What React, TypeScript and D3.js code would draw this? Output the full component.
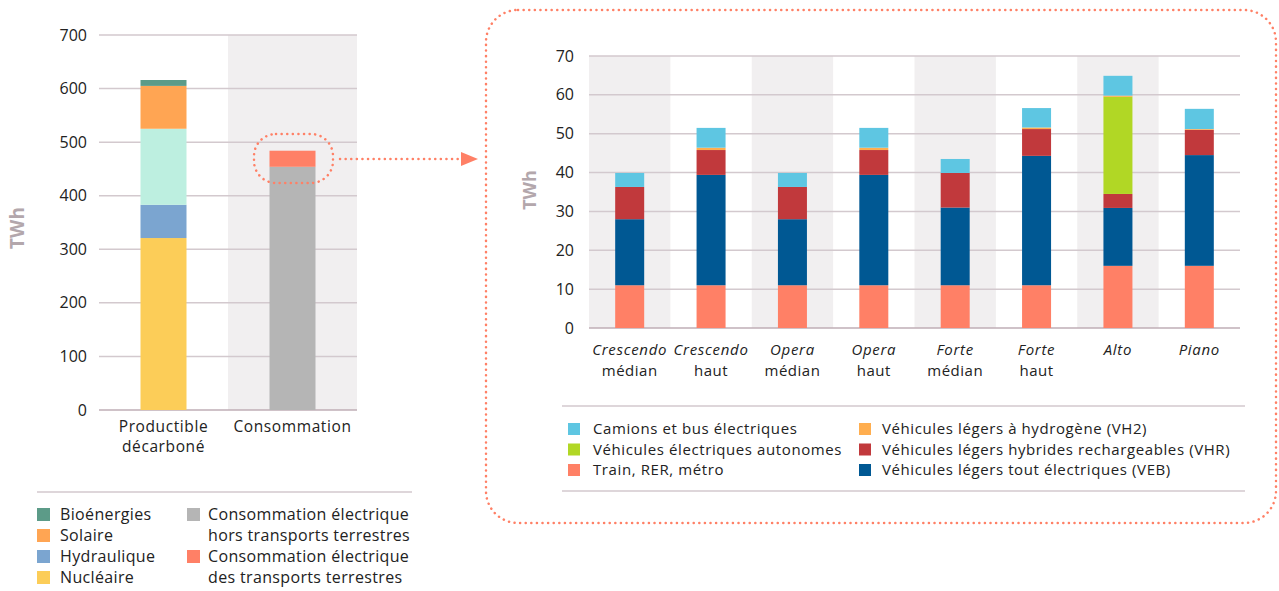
import React from "react";
import * as d3 from "d3";

const leftCategories = ["Productible décarboné", "Consommation"];
const leftCatLines = [["Productible", "décarboné"], ["Consommation"]];
const leftSeriesKeys = ["nucleaire", "hydraulique", "eolien", "solaire", "bio", "horsTransport", "transport"];
const nucleaire = [321, 0];
const hydraulique = [62, 0];
const eolien = [142, 0];
const solaire = [80, 0];
const bio = [11, 0];
const horsTransport = [0, 454];
const transport = [0, 30];
const leftTicks = [0, 100, 200, 300, 400, 500, 600, 700];

const rightCategories = ["Crescendo médian", "Crescendo haut", "Opera médian", "Opera haut", "Forte médian", "Forte haut", "Alto", "Piano"];
const rightLine1 = ["Crescendo", "Crescendo", "Opera", "Opera", "Forte", "Forte", "Alto", "Piano"];
const rightLine2 = ["médian", "haut", "médian", "haut", "médian", "haut", "", ""];
const rightSeriesKeys = ["train", "veb", "vhr", "vea", "vh2", "camions"];
const train = [11, 11, 11, 11, 11, 11, 16, 16];
const veb = [17, 28.4, 17, 28.4, 20, 33.3, 14.9, 28.5];
const vhr = [8.3, 6.4, 8.3, 6.4, 8.9, 6.9, 3.6, 6.5];
const vea = [0, 0, 0, 0, 0, 0, 25, 0];
const vh2 = [0, 0.6, 0, 0.6, 0, 0.4, 0.3, 0.2];
const camions = [3.6, 5.1, 3.6, 5.1, 3.6, 5, 5.1, 5.2];
const rightTicks = [0, 10, 20, 30, 40, 50, 60, 70];

const leftColors: Record<string, string> = {
  nucleaire: "#fccd58",
  hydraulique: "#7ba5d0",
  eolien: "#bdefe0",
  solaire: "#ffa553",
  bio: "#5c9b88",
  horsTransport: "#b5b5b5",
  transport: "#ff8066",
};
const rightColors: Record<string, string> = {
  train: "#ff8066",
  veb: "#005893",
  vhr: "#c1393c",
  vea: "#b1d725",
  vh2: "#ffae4f",
  camions: "#5ec6e2",
};

const leftLegend1 = [
  { key: "bio", label: "Bioénergies" },
  { key: "solaire", label: "Solaire" },
  { key: "hydraulique", label: "Hydraulique" },
  { key: "nucleaire", label: "Nucléaire" },
];
const leftLegend2 = [
  { key: "horsTransport", lines: ["Consommation électrique", "hors transports terrestres"] },
  { key: "transport", lines: ["Consommation électrique", "des transports terrestres"] },
];
const rightLegend1 = [
  { key: "camions", label: "Camions et bus électriques" },
  { key: "vea", label: "Véhicules électriques autonomes" },
  { key: "train", label: "Train, RER, métro" },
];
const rightLegend2 = [
  { key: "vh2", label: "Véhicules légers à hydrogène (VH2)" },
  { key: "vhr", label: "Véhicules légers hybrides rechargeables (VHR)" },
  { key: "veb", label: "Véhicules légers tout électriques (VEB)" },
];

const FONT = "'Open Sans', Lato, sans-serif";
const GRID = "#d3c9ce";
const BAND = "#f1eff0";
const TXT = "#222";
const AXIS_LBL = "#b3a7ac";
const DOT = "#ff8066";

export default function App() {
  // Left chart
  const lx = d3.scaleBand<string>().domain(leftCategories).range([99, 357]).padding(0);
  const ly = d3.scaleLinear().domain([0, 700]).range([410, 35]);
  const leftRows = leftCategories.map((c, i) => {
    const o: any = { cat: c };
    const src: Record<string, number[]> = { nucleaire, hydraulique, eolien, solaire, bio, horsTransport, transport };
    leftSeriesKeys.forEach((k) => (o[k] = src[k][i]));
    return o;
  });
  const leftStack = d3.stack<any>().keys(leftSeriesKeys)(leftRows);
  const lBarW = 46;

  // Right chart
  const rx = d3.scaleBand<string>().domain(rightCategories).range([589, 1240]).padding(0);
  const ry = d3.scaleLinear().domain([0, 70]).range([328, 56]);
  const rightRows = rightCategories.map((c, i) => {
    const o: any = { cat: c };
    const src: Record<string, number[]> = { train, veb, vhr, vea, vh2, camions };
    rightSeriesKeys.forEach((k) => (o[k] = src[k][i]));
    return o;
  });
  const rightStack = d3.stack<any>().keys(rightSeriesKeys)(rightRows);
  const rBarW = 29;

  return (
    <svg width={1279} height={591} style={{ position: "absolute", left: 0, top: 0, background: "#fff" }} fontFamily={FONT}>
      {/* LEFT CHART */}
      <rect x={lx("Consommation")!} y={ly(700)} width={lx.bandwidth()} height={ly(0) - ly(700)} fill={BAND} />
      {leftTicks.map((t) => (
        <g key={t}>
          <line x1={99} x2={357} y1={ly(t)} y2={ly(t)} stroke={t === 0 ? "#bfaeb6" : GRID} strokeWidth={1.5} />
          <text x={87} y={ly(t)} dy="0.35em" textAnchor="end" fontSize={16} fill={TXT}>{t}</text>
        </g>
      ))}
      {leftStack.map((s) =>
        s.map((d, i) =>
          d[1] - d[0] > 0 ? (
            <rect key={s.key + i} x={lx(leftCategories[i])! + lx.bandwidth() / 2 - lBarW / 2} y={ly(d[1])} width={lBarW} height={ly(d[0]) - ly(d[1])} fill={leftColors[s.key]} />
          ) : null
        )
      )}
      {leftCatLines.map((lines, i) =>
        lines.map((l, j) => (
          <text key={i + "-" + j} x={lx(leftCategories[i])! + lx.bandwidth() / 2} y={432 + j * 19.5} textAnchor="middle" fontSize={15.5} letterSpacing={0.6} fill={TXT}>{l}</text>
        ))
      )}
      <text transform="translate(24,228) rotate(-90)" textAnchor="middle" fontSize={19} fontWeight={700} fill={AXIS_LBL}>TWh</text>

      {/* left legend */}
      <line x1={37} x2={412} y1={492} y2={492} stroke={GRID} strokeWidth={1.5} />
      {leftLegend1.map((it, i) => (
        <g key={it.key}>
          <rect x={37} y={508 + i * 21} width={13} height={13} fill={leftColors[it.key]} />
          <text x={60} y={514.5 + i * 21} dy="0.35em" fontSize={16} letterSpacing={0.35} fill={TXT}>{it.label}</text>
        </g>
      ))}
      {leftLegend2.map((it, i) => (
        <g key={it.key}>
          <rect x={187} y={508 + i * 42} width={13} height={13} fill={leftColors[it.key]} />
          {it.lines.map((l, j) => (
            <text key={j} x={208} y={514.5 + i * 42 + j * 21} dy="0.35em" fontSize={16} letterSpacing={0.35} fill={TXT}>{l}</text>
          ))}
        </g>
      ))}

      {/* dotted highlight + arrow */}
      <rect x={254} y={134} width={79} height={49} rx={22} fill="none" stroke={DOT} strokeWidth={2.5} strokeDasharray="0.1 5.5" strokeLinecap="round" />
      <line x1={340} x2={462} y1={159} y2={159} stroke={DOT} strokeWidth={2.5} strokeDasharray="0.1 5.5" strokeLinecap="round" />
      <path d="M461,152 L478,159 L461,166 Z" fill={DOT} />
      <rect x={486} y={10} width={790} height={513} rx={32} fill="none" stroke={DOT} strokeWidth={2.5} strokeDasharray="0.1 5.5" strokeLinecap="round" />

      {/* RIGHT CHART */}
      {rightCategories.map((c, i) =>
        i % 2 === 0 ? <rect key={c} x={rx(c)!} y={ry(70)} width={rx.bandwidth()} height={ry(0) - ry(70)} fill={BAND} /> : null
      )}
      {rightTicks.map((t) => (
        <g key={t}>
          <line x1={589} x2={1240} y1={ry(t)} y2={ry(t)} stroke={t === 0 ? "#bfaeb6" : GRID} strokeWidth={1.5} />
          <text x={574} y={ry(t)} dy="0.35em" textAnchor="end" fontSize={16} fill={TXT}>{t}</text>
        </g>
      ))}
      {rightStack.map((s) =>
        s.map((d, i) =>
          d[1] - d[0] > 0 ? (
            <rect key={s.key + i} x={rx(rightCategories[i])! + rx.bandwidth() / 2 - rBarW / 2} y={ry(d[1])} width={rBarW} height={ry(d[0]) - ry(d[1])} fill={rightColors[s.key]} />
          ) : null
        )
      )}
      {rightCategories.map((c, i) => (
        <g key={c}>
          <text x={rx(c)! + rx.bandwidth() / 2} y={355} textAnchor="middle" fontSize={15} fontStyle="italic" letterSpacing={0.7} fill={TXT}>{rightLine1[i]}</text>
          {rightLine2[i] ? (
            <text x={rx(c)! + rx.bandwidth() / 2} y={376} textAnchor="middle" fontSize={15} letterSpacing={0.5} fill={TXT}>{rightLine2[i]}</text>
          ) : null}
        </g>
      ))}
      <text transform="translate(536,190) rotate(-90)" textAnchor="middle" fontSize={18} fontWeight={700} fill={AXIS_LBL}>TWh</text>

      {/* right legend */}
      <line x1={562} x2={1245} y1={406} y2={406} stroke={GRID} strokeWidth={1.5} />
      <line x1={562} x2={1245} y1={491} y2={491} stroke={GRID} strokeWidth={1.5} />
      {rightLegend1.map((it, i) => (
        <g key={it.key}>
          <rect x={568} y={423 + i * 20.5} width={12} height={12} fill={rightColors[it.key]} />
          <text x={593} y={429 + i * 20.5} dy="0.35em" fontSize={15} letterSpacing={0.6} fill={TXT}>{it.label}</text>
        </g>
      ))}
      {rightLegend2.map((it, i) => (
        <g key={it.key}>
          <rect x={859} y={423 + i * 20.5} width={12} height={12} fill={rightColors[it.key]} />
          <text x={882} y={429 + i * 20.5} dy="0.35em" fontSize={15} letterSpacing={0.6} fill={TXT}>{it.label}</text>
        </g>
      ))}
    </svg>
  );
}
